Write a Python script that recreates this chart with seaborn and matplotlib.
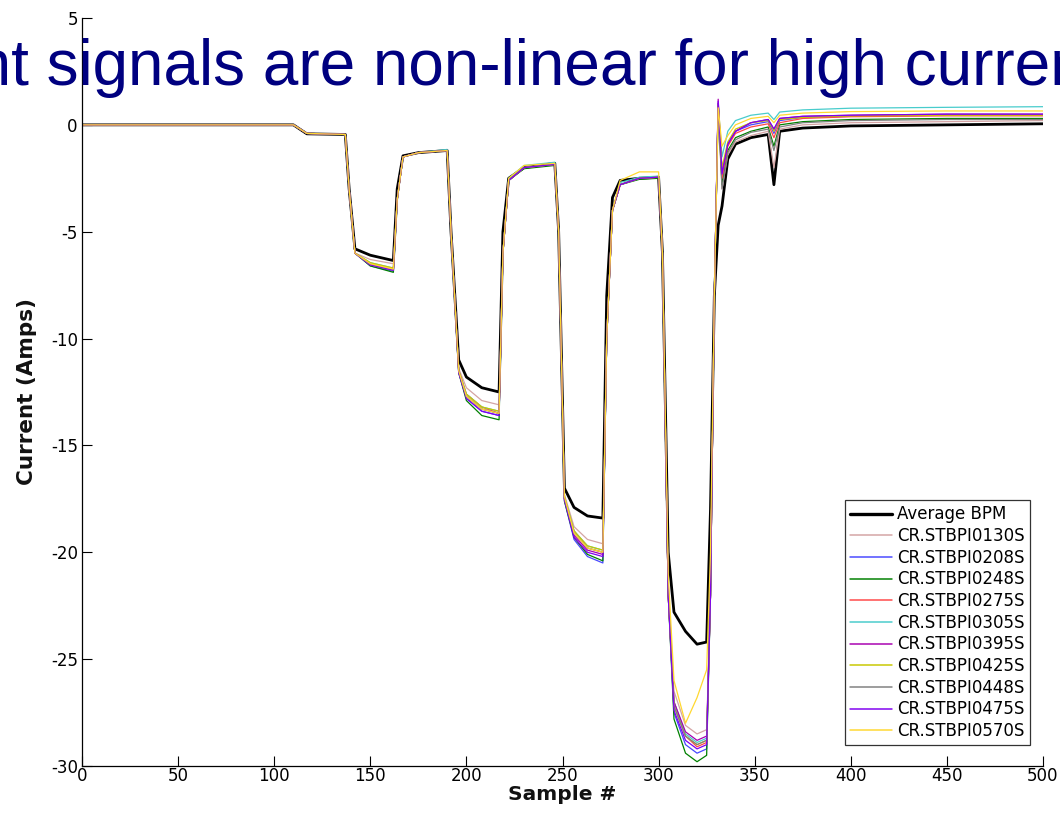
import numpy as np
import pandas as pd
import matplotlib
matplotlib.use("Agg")
import matplotlib.pyplot as plt
import seaborn as sns
from matplotlib.lines import Line2D

# ---------------- data ----------------
sample_x = [0, 110, 117, 137, 139, 142, 150, 162, 164, 167,
            175, 190, 192, 196, 200, 208, 217, 219, 222, 230,
            246, 248, 251, 256, 263, 271, 273, 276, 280, 290,
            300, 302, 305, 308, 314, 320, 325, 327, 329, 331,
            333, 336, 340, 348, 357, 360, 363, 375, 400, 450,
            500]

average_bpm = [0.0, 0.0, -0.42, -0.45, -3.0, -5.8, -6.1, -6.35, -3.0, -1.45,
               -1.3, -1.2, -5.0, -11.0, -11.8, -12.3, -12.5, -5.0, -2.5, -2.0,
               -1.8, -5.0, -17.0, -17.9, -18.3, -18.4, -8.0, -3.4, -2.6, -2.5,
               -2.45, -6.0, -20.0, -22.8, -23.7, -24.3, -24.2, -18.0, -8.0, -4.7,
               -3.8, -1.6, -0.9, -0.6, -0.45, -2.8, -0.3, -0.15, -0.05, 0.0,
               0.05]

stbpi0130 = [0.0, 0.0, -0.4, -0.45, -3.0, -6.0, -6.3, -6.5, -3.5, -1.5,
             -1.3, -1.2, -5.0, -11.4, -12.3, -12.9, -13.1, -6.0, -2.6, -2.0,
             -1.85, -5.0, -17.3, -18.8, -19.4, -19.6, -10.0, -4.0, -2.8, -2.5,
             -2.45, -6.0, -21.5, -26.5, -28.1, -28.5, -28.3, -22.0, -8.0, 0.8,
             -3.0, -1.4, -0.8, -0.5, -0.3, -2.0, -0.2, 0.0, 0.1, 0.15,
             0.2]

stbpi0208 = [0.0, 0.0, -0.4, -0.45, -3.0, -6.0, -6.6, -6.85, -3.5, -1.5,
             -1.3, -1.2, -5.0, -11.6, -12.8, -13.4, -13.6, -6.0, -2.6, -2.0,
             -1.85, -5.0, -17.6, -19.4, -20.2, -20.5, -10.0, -4.0, -2.8, -2.5,
             -2.45, -6.0, -22.0, -27.5, -29.0, -29.4, -29.2, -22.0, -8.0, 1.0,
             -2.5, -0.9, -0.3, 0.0, 0.15, -0.4, 0.2, 0.35, 0.4, 0.45,
             0.45]

stbpi0248 = [0.0, 0.0, -0.4, -0.45, -3.0, -6.0, -6.6, -6.9, -3.5, -1.5,
             -1.3, -1.2, -5.0, -11.6, -12.9, -13.6, -13.8, -6.0, -2.6, -2.05,
             -1.9, -5.0, -17.6, -19.3, -20.1, -20.4, -10.0, -4.0, -2.8, -2.55,
             -2.5, -6.0, -22.0, -27.8, -29.4, -29.8, -29.5, -22.0, -8.0, 0.9,
             -2.8, -1.2, -0.6, -0.3, -0.1, -1.0, 0.0, 0.15, 0.25, 0.3,
             0.3]

stbpi0275 = [0.0, 0.0, -0.4, -0.45, -3.0, -6.0, -6.5, -6.75, -3.5, -1.5,
             -1.3, -1.2, -5.0, -11.5, -12.6, -13.2, -13.5, -6.0, -2.6, -2.0,
             -1.85, -5.0, -17.5, -19.0, -19.8, -20.0, -10.0, -4.0, -2.8, -2.5,
             -2.45, -6.0, -22.0, -27.0, -28.6, -29.1, -28.9, -22.0, -8.0, 1.0,
             -2.5, -1.0, -0.4, -0.1, 0.05, -0.6, 0.1, 0.3, 0.38, 0.42,
             0.42]

stbpi0305 = [0.0, 0.0, -0.4, -0.45, -3.0, -6.0, -6.45, -6.7, -3.5, -1.5,
             -1.3, -1.15, -5.0, -11.5, -12.6, -13.2, -13.4, -6.0, -2.5, -1.9,
             -1.75, -5.0, -17.4, -19.0, -19.7, -19.9, -10.0, -4.0, -2.7, -2.45,
             -2.4, -6.0, -21.8, -27.0, -28.5, -28.9, -28.7, -22.0, -8.0, 1.0,
             -1.5, -0.3, 0.2, 0.45, 0.55, 0.25, 0.6, 0.7, 0.78, 0.82,
             0.85]

stbpi0395 = [0.0, 0.0, -0.4, -0.45, -3.0, -6.0, -6.55, -6.8, -3.5, -1.5,
             -1.3, -1.2, -5.0, -11.5, -12.7, -13.3, -13.5, -6.0, -2.6, -2.0,
             -1.85, -5.0, -17.5, -19.2, -19.9, -20.1, -10.0, -4.0, -2.8, -2.5,
             -2.45, -6.0, -22.0, -27.0, -28.4, -28.8, -28.6, -22.0, -8.0, 1.2,
             -2.2, -0.9, -0.3, 0.1, 0.25, -0.2, 0.3, 0.4, 0.45, 0.5,
             0.5]

stbpi0425 = [0.0, 0.0, -0.4, -0.45, -3.0, -6.0, -6.45, -6.7, -3.5, -1.5,
             -1.3, -1.2, -5.0, -11.5, -12.6, -13.2, -13.4, -6.0, -2.6, -2.0,
             -1.85, -5.0, -17.4, -19.0, -19.7, -19.9, -10.0, -4.0, -2.8, -2.5,
             -2.45, -6.0, -22.0, -27.2, -28.6, -29.0, -28.8, -22.0, -8.0, 0.9,
             -2.0, -0.8, -0.2, 0.1, 0.2, -0.3, 0.25, 0.35, 0.42, 0.45,
             0.45]

stbpi0448 = [0.0, 0.0, -0.4, -0.45, -3.0, -6.0, -6.55, -6.8, -3.5, -1.5,
             -1.3, -1.2, -5.0, -11.5, -12.7, -13.3, -13.5, -6.0, -2.6, -2.0,
             -1.85, -5.0, -17.5, -19.1, -19.8, -20.0, -10.0, -4.0, -2.8, -2.5,
             -2.45, -6.0, -22.0, -27.2, -28.6, -29.0, -28.8, -22.0, -8.0, 0.8,
             -3.0, -1.3, -0.7, -0.35, -0.2, -1.2, -0.1, 0.1, 0.2, 0.25,
             0.25]

stbpi0475 = [0.0, 0.0, -0.4, -0.45, -3.0, -6.0, -6.55, -6.8, -3.5, -1.5,
             -1.3, -1.2, -5.0, -11.6, -12.8, -13.4, -13.6, -6.0, -2.6, -2.0,
             -1.85, -5.0, -17.5, -19.3, -20.0, -20.2, -10.0, -4.0, -2.8, -2.5,
             -2.45, -6.0, -22.0, -27.4, -28.8, -29.2, -29.0, -22.0, -8.0, 1.1,
             -2.3, -0.9, -0.3, 0.1, 0.25, -0.2, 0.3, 0.4, 0.45, 0.5,
             0.5]

stbpi0570 = [0.0, 0.0, -0.4, -0.45, -3.0, -6.0, -6.5, -6.75, -3.5, -1.5,
             -1.3, -1.2, -5.0, -11.5, -12.7, -13.3, -13.5, -6.0, -2.5, -1.9,
             -1.8, -5.0, -17.4, -19.1, -19.8, -20.0, -10.0, -4.0, -2.6, -2.2,
             -2.2, -6.0, -21.0, -26.0, -28.0, -26.8, -25.5, -20.0, -8.0, 0.8,
             -1.0, -0.5, 0.0, 0.3, 0.4, 0.1, 0.45, 0.55, 0.62, 0.65,
             0.65]

series_names = ["Average BPM", "CR.STBPI0130S", "CR.STBPI0208S", "CR.STBPI0248S",
                "CR.STBPI0275S", "CR.STBPI0305S", "CR.STBPI0395S", "CR.STBPI0425S",
                "CR.STBPI0448S", "CR.STBPI0475S", "CR.STBPI0570S"]
series_values = [average_bpm, stbpi0130, stbpi0208, stbpi0248, stbpi0275,
                 stbpi0305, stbpi0395, stbpi0425, stbpi0448, stbpi0475, stbpi0570]

x_ticks = [0, 50, 100, 150, 200, 250, 300, 350, 400, 450, 500]
y_ticks = [-30, -25, -20, -15, -10, -5, 0, 5]

title_text = "Current signals are non-linear for high currents"
x_label = "Sample #"
y_label = "Current (Amps)"

# ---------------- styling ----------------
colors = ["#000000", "#d4a4a4", "#4848ff", "#008000", "#ff4848", "#48cccc",
          "#a800b0", "#c8c800", "#808080", "#8000f0", "#ffd830"]
palette = dict(zip(series_names, colors))
widths = {n: (2.0 if n == "Average BPM" else 0.9) for n in series_names}

rows = []
for name, vals in zip(series_names, series_values):
    for xv, yv in zip(sample_x, vals):
        rows.append((name, xv, yv))
df = pd.DataFrame(rows, columns=["Series", "Sample", "Current"])

sns.set_theme(style="white")
plt.rcParams["font.family"] = ["DejaVu Sans"]

W, H = 1060, 814
fig = plt.figure(figsize=(W / 100, H / 100), dpi=100)
ax = fig.add_axes([82 / W, 48 / H, 961 / W, 748 / H])

sns.lineplot(data=df, x="Sample", y="Current", hue="Series", size="Series",
             sizes=widths, palette=palette, hue_order=series_names,
             size_order=series_names, estimator=None, sort=False,
             legend=False, ax=ax)

ax.set_xlim(0, 500)
ax.set_ylim(-30, 5)
ax.set_xticks(x_ticks)
ax.set_yticks(y_ticks)
ax.set_xticklabels([str(t) for t in x_ticks])
ax.set_yticklabels([str(t) for t in y_ticks])
ax.tick_params(direction="in", length=7, width=0.8, colors="black",
               labelsize=12, pad=3, left=True, bottom=True)
ax.tick_params(axis="x", pad=1)
for s in ["top", "right"]:
    ax.spines[s].set_visible(False)
for s in ["left", "bottom"]:
    ax.spines[s].set_color("black")
    ax.spines[s].set_linewidth(0.9)
ax.set_xlabel(x_label, fontsize=14.5, fontweight="bold", labelpad=0,
              color="#111111")
ax.set_ylabel(y_label, fontsize=15.5, fontweight="bold", labelpad=10,
              color="#111111")
ax.set_facecolor("white")

handles = [Line2D([0], [0], color=palette[n], lw=widths[n] * 1.2) for n in series_names]
leg = ax.legend(handles, series_names, loc="lower right",
                bbox_to_anchor=(1030 / W, 69 / H), bbox_transform=fig.transFigure,
                fontsize=12, frameon=True, fancybox=False, handlelength=2.5,
                handletextpad=0.35, labelspacing=0.22, borderpad=0.3,
                borderaxespad=0)
leg.get_frame().set_edgecolor("black")
leg.get_frame().set_linewidth(0.9)
for t in leg.get_texts():
    t.set_color("black")

# slide title overlay (clipped by the figure edges, as in the reference)
fig.text(-184 / W, (H - 85) / H, title_text, fontsize=46,
         family=["Liberation Sans", "DejaVu Sans"], color="#000080",
         ha="left", va="baseline", zorder=10)

fig.savefig("out.png", dpi=100, facecolor="white")
